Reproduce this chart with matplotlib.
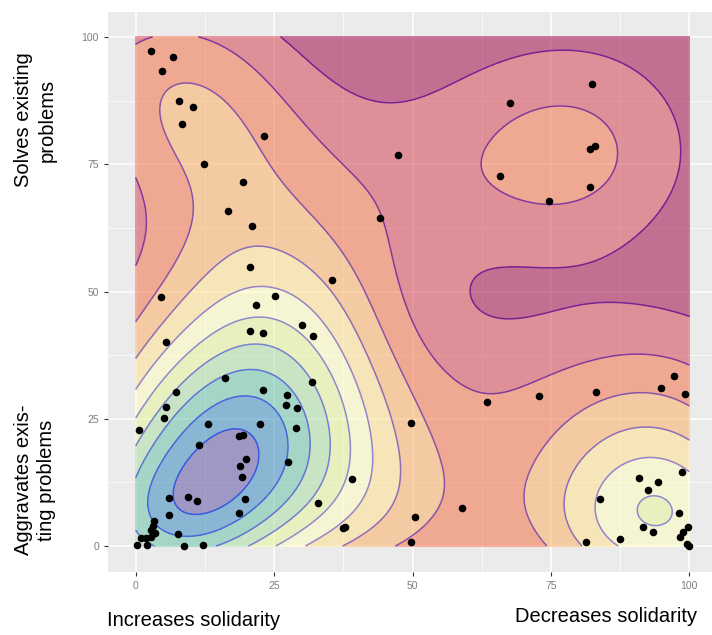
import numpy as np
import matplotlib
matplotlib.use('Agg')
import matplotlib.pyplot as plt
from matplotlib.ticker import MultipleLocator
from matplotlib.colors import LinearSegmentedColormap
plt.rcParams['font.family'] = ['Liberation Sans', 'DejaVu Sans']

# responses: solidarity (x) vs problems (y)
solidarity = [2.8, 6.7, 4.7, 7.8, 10.4, 8.3, 23.1, 12.4, 19.3, 16.6, 21.1, 47.3, 44.2,
              20.6, 35.5, 4.5, 25.1, 82.5, 67.7, 82.1, 82.9, 65.8, 82.1, 74.7, 21.8,
              5.4, 20.7, 23.0, 30.0, 32.1, 16.1, 31.8, 7.2, 23.0, 27.3, 27.1, 29.2,
              5.4, 5.2, 0.6, 13.1, 22.5, 28.9, 18.7, 19.4, 11.5, 19.9, 18.9, 19.2,
              27.5, 39.1, 9.4, 11.0, 6.0, 19.8, 32.9, 6.0, 18.7, 3.3, 3.1, 2.8, 3.4,
              7.7, 1.0, 1.9, 37.8, 37.4, 0.2, 2.1, 8.7, 12.2, 2.8, 49.7, 50.5, 49.7,
              58.9, 63.5, 72.8, 83.1, 94.8, 97.2, 99.2, 98.7, 91.0, 94.3, 92.5, 83.8,
              98.2, 91.6, 93.4, 99.7, 98.9, 98.4, 99.5, 100.0, 87.4, 81.4]
problems = [97.2, 96.0, 93.4, 87.4, 86.2, 82.9, 80.5, 75.0, 71.5, 65.8, 62.9, 76.8, 64.5,
            54.9, 52.2, 49.0, 49.1, 90.7, 87.1, 78.0, 78.5, 72.7, 70.5, 67.8, 47.3,
            40.0, 42.3, 41.8, 43.4, 41.3, 33.1, 32.3, 30.3, 30.6, 29.6, 27.8, 27.1,
            27.4, 25.1, 22.8, 24.0, 24.0, 23.1, 21.6, 21.8, 19.8, 17.1, 15.7, 13.6,
            16.6, 13.2, 9.7, 8.8, 9.5, 9.2, 8.5, 6.1, 6.5, 4.9, 3.9, 3.1, 2.5,
            2.4, 1.6, 1.6, 3.8, 3.5, 0.2, 0.2, 0.1, 0.2, 1.8, 24.1, 5.8, 0.7,
            7.4, 28.2, 29.5, 30.3, 31.0, 33.5, 29.9, 14.6, 13.4, 12.5, 11.1, 9.3,
            6.4, 3.7, 2.8, 3.8, 2.8, 1.7, 0.5, 0.1, 1.3, 0.7]

ticks = [0, 25, 50, 75, 100]
spectral = ['#9e0142', '#d53e4f', '#f46d43', '#fdae61', '#fee08b', '#ffffbf',
            '#e6f598', '#abdda4', '#66c2a5', '#3288bd', '#5e4fa2']

x = np.array(solidarity)
y = np.array(problems)


def bw(v):
    # MASS::bandwidth.nrd / 4 (kernel sd)
    q75, q25 = np.percentile(v, [75, 25])
    return 1.06 * min(np.std(v, ddof=1), (q75 - q25) / 1.34) * len(v) ** (-0.2)


gx = np.linspace(0, 100, 200)
gy = np.linspace(0, 100, 200)
hx, hy = bw(x), bw(y)
kx = np.exp(-0.5 * ((gx[:, None] - x[None, :]) / hx) ** 2) / (hx * np.sqrt(2 * np.pi))
ky = np.exp(-0.5 * ((gy[:, None] - y[None, :]) / hy) ** 2) / (hy * np.sqrt(2 * np.pi))
z = ky @ kx.T / len(x)

step = z.max() / 10.6
levels = np.arange(12) * step

fig = plt.figure(figsize=(7.12, 6.35), dpi=100)
ax = fig.add_axes([108 / 712, 63.5 / 635, 609 / 712, 560 / 635])
ax.set_facecolor('#ebebeb')
ax.set_axisbelow(True)
ax.xaxis.set_minor_locator(MultipleLocator(12.5))
ax.yaxis.set_minor_locator(MultipleLocator(12.5))
ax.grid(which='major', color='white', lw=1.1)
ax.grid(which='minor', color='white', lw=0.5)

ax.contourf(gx, gy, z, levels=levels, colors=spectral, alpha=0.53, zorder=1)
lcmap = LinearSegmentedColormap.from_list('ln', ['#6a1b9a', '#8a7ad0', '#2f55e6'])
ax.contour(gx, gy, z, levels=levels[1:-1], cmap=lcmap, linewidths=1.1, alpha=0.85, zorder=2)
ax.scatter(x, y, s=30, color='black', zorder=3, linewidths=0)

ax.set_xlim(-5, 105)
ax.set_ylim(-5, 105)
ax.set_xticks(ticks)
ax.set_yticks(ticks)
ax.tick_params(which='major', length=3, color='#333333', labelcolor='#7f7f7f', labelsize=7.5)
ax.tick_params(which='minor', length=0)
for s in ax.spines.values():
    s.set_visible(False)

fig.text(107 / 712, 1 - 620 / 635, 'Increases solidarity', fontsize=14.5, ha='left', va='center')
fig.text(697 / 712, 1 - 617 / 635, 'Decreases solidarity', fontsize=14.5, ha='right', va='center')
fig.text(35 / 712, 1 - 120 / 635, 'Solves existing\nproblems', fontsize=14.5, rotation=90,
         ha='center', va='center', linespacing=1.3)
fig.text(35 / 712, 1 - 480 / 635, 'Aggravates exis-\nting problems', fontsize=14.5, rotation=90,
         ha='center', va='center', linespacing=1.3)

fig.savefig('out.png', dpi=100)
